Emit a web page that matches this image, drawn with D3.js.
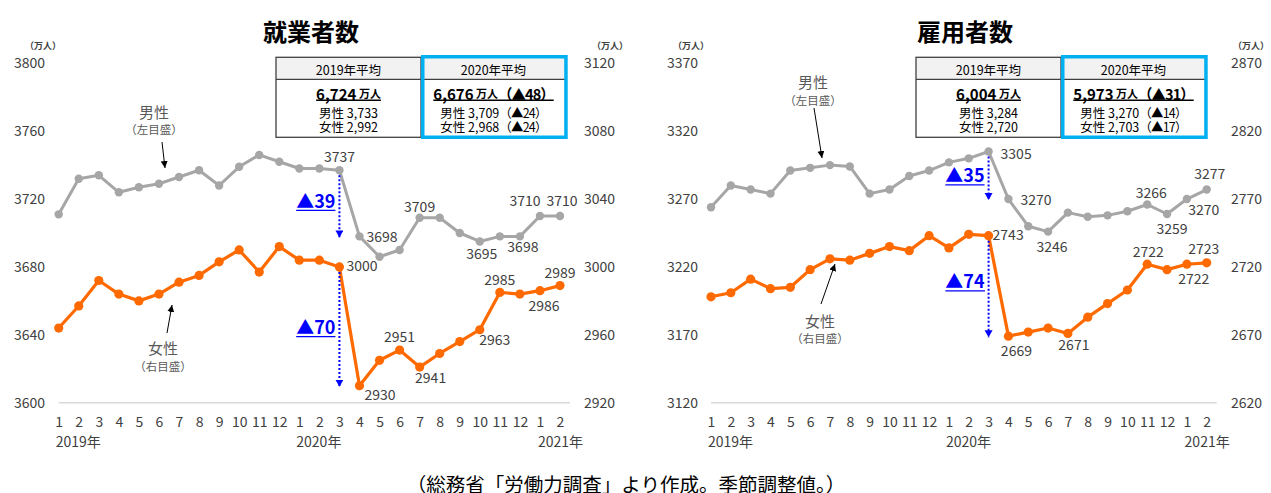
<!DOCTYPE html>
<html><head><meta charset="utf-8">
<script src="https://cdn.jsdelivr.net/npm/d3@7"></script>
<style>
html,body{margin:0;padding:0;background:#fff;}
svg{display:block;font-family:"Noto Sans CJK JP","Noto Sans",sans-serif;}
</style></head>
<body>
<svg id="c" width="1271" height="493"></svg>
<script>
// ---------- data ----------
const months = ["1","2","3","4","5","6","7","8","9","10","11","12","1","2","3","4","5","6","7","8","9","10","11","12","1","2"];
const yearLabels = ["2019年","2020年","2021年"];
const yearIdx = [0,12,25];

// 就業者数 (万人)
const shugyoMen   = [3711,3732,3734,3724,3727,3729,3733,3737,3728,3739,3746,3742,3738,3738,3737,3698,3686,3690,3709,3709,3700,3695,3698,3698,3710,3710];
const shugyoWomen = [2964,2977,2992,2984,2980,2984,2991,2995,3003,3010,2997,3012,3004,3004,3000,2930,2945,2951,2941,2949,2956,2963,2985,2984,2986,2989];
const shugyoLeftTicks  = [3600,3640,3680,3720,3760,3800];
const shugyoRightTicks = [2920,2960,3000,3040,3080,3120];

// 雇用者数 (万人)
const koyoMen   = [3264,3280,3277,3274,3291,3293,3295,3294,3274,3277,3287,3291,3297,3300,3305,3270,3250,3246,3260,3257,3258,3261,3266,3259,3270,3277];
const koyoWomen = [2698,2701,2711,2704,2705,2718,2726,2725,2730,2735,2732,2743,2734,2744,2743,2669,2672,2675,2671,2683,2693,2703,2722,2718,2722,2723];
const koyoLeftTicks  = [3120,3170,3220,3270,3320,3370];
const koyoRightTicks = [2620,2670,2720,2770,2820,2870];

// summary tables
const tableHeads = ["2019年平均","2020年平均"];
const shugyoTotals = ["6,724","6,676"];
const shugyoTotalDelta = ["","（▲48）"];
const shugyoMenAvg = ["3,733","3,709"];
const shugyoMenDelta = ["","（▲24）"];
const shugyoWomenAvg = ["2,992","2,968"];
const shugyoWomenDelta = ["","（▲24）"];
const koyoTotals = ["6,004","5,973"];
const koyoTotalDelta = ["","（▲31）"];
const koyoMenAvg = ["3,284","3,270"];
const koyoMenDelta = ["","（▲14）"];
const koyoWomenAvg = ["2,720","2,703"];
const koyoWomenDelta = ["","（▲17）"];

// ---------- drawing ----------
const svg = d3.select("#c");
const GRAY = "#a6a6a6", ORANGE = "#ff6a00", BLUE = "#0000ff", TXT = "#404040";
const defs = svg.append("defs");
defs.append("marker").attr("id","ah").attr("markerUnits","userSpaceOnUse")
  .attr("markerWidth",8).attr("markerHeight",8).attr("refX",7).attr("refY",3.5).attr("orient","auto")
  .append("path").attr("d","M0,0 L7,3.5 L0,7 z").attr("fill","#000");
defs.append("marker").attr("id","bh").attr("markerUnits","userSpaceOnUse")
  .attr("markerWidth",9).attr("markerHeight",9).attr("refX",7).attr("refY",4).attr("orient","auto")
  .append("path").attr("d","M0,0 L7,4 L0,8 z").attr("fill",BLUE);

const Y0 = 402.7, Y1 = 63.3;

function drawChart(cfg){
  const g = svg.append("g");
  const x = d3.scalePoint().domain(d3.range(months.length)).range(cfg.xRange);
  const yL = d3.scaleLinear().domain(cfg.leftDomain).range([Y0,Y1]);
  const yR = d3.scaleLinear().domain(cfg.rightDomain).range([Y0,Y1]);

  // title
  g.append("text").attr("x",cfg.titleX).attr("y",30).attr("text-anchor","middle")
    .attr("dominant-baseline","central").attr("font-size",24).attr("font-weight","bold")
    .attr("fill","#000").text(cfg.title);

  // unit labels
  [cfg.unitL, cfg.unitR].forEach(ux=>{
    g.append("text").attr("x",ux).attr("y",45).attr("text-anchor","middle")
     .attr("dominant-baseline","central").attr("font-size",9).attr("font-weight","bold")
     .attr("fill",TXT).text("（万人）");
  });

  // baseline
  g.append("line").attr("x1",x(0)).attr("x2",x(months.length-1)+10)
    .attr("y1",Y0).attr("y2",Y0).attr("stroke","#d9d9d9").attr("stroke-width",1.5);

  // axes
  const axL = g.append("g").attr("transform",`translate(${cfg.axisLX},0)`)
    .call(d3.axisLeft(yL).tickValues(cfg.leftTicks).tickSize(0).tickPadding(0).tickFormat(d3.format("d")));
  const axR = g.append("g").attr("transform",`translate(${cfg.axisRX},0)`)
    .call(d3.axisRight(yR).tickValues(cfg.rightTicks).tickSize(0).tickPadding(0).tickFormat(d3.format("d")));
  const axB = g.append("g").attr("transform",`translate(0,${Y0})`)
    .call(d3.axisBottom(x).tickSize(0).tickPadding(14).tickFormat(i=>months[i]));
  [axL,axR,axB].forEach(a=>{
    a.select(".domain").remove();
    a.selectAll("text").attr("font-size",14).attr("fill",TXT)
     .attr("font-family",'"Noto Sans CJK JP","Noto Sans",sans-serif');
  });

  // year labels
  yearLabels.forEach((t,k)=>{
    const last = k===yearLabels.length-1;
    g.append("text").attr("x", last ? x(yearIdx[k])+23 : x(yearIdx[k])-3).attr("y",447)
      .attr("text-anchor", last ? "end" : "start").attr("font-size",14).attr("fill",TXT).text(t);
  });

  // lines
  const lineL = d3.line().x((d,i)=>x(i)).y(d=>yL(d));
  const lineR = d3.line().x((d,i)=>x(i)).y(d=>yR(d));
  g.append("path").attr("d",lineL(cfg.men)).attr("fill","none").attr("stroke",GRAY).attr("stroke-width",3).attr("stroke-linejoin","round");
  g.selectAll(null).data(cfg.men).enter().append("circle")
    .attr("cx",(d,i)=>x(i)).attr("cy",d=>yL(d)).attr("r",4.2).attr("fill",GRAY);
  g.append("path").attr("d",lineR(cfg.women)).attr("fill","none").attr("stroke",ORANGE).attr("stroke-width",3.2).attr("stroke-linejoin","round");
  g.selectAll(null).data(cfg.women).enter().append("circle")
    .attr("cx",(d,i)=>x(i)).attr("cy",d=>yR(d)).attr("r",4.6).attr("fill",ORANGE);

  // data labels
  function labels(list, vals, ys){
    list.forEach(([i,anchor,dx,dy])=>{
      g.append("text").attr("x",x(i)+dx).attr("y",ys(vals[i])+dy)
       .attr("text-anchor",anchor).attr("dominant-baseline","central")
       .attr("font-size",14).attr("fill",TXT).text(vals[i]);
    });
  }
  labels(cfg.menLabels, cfg.men, yL);
  labels(cfg.womenLabels, cfg.women, yR);

  // drop arrows (blue dotted) + delta labels
  function drop(vals, ys, i, dyText){
    const a = vals[i], b = vals[i+1];
    g.append("line").attr("x1",x(i)).attr("x2",x(i)).attr("y1",ys(a)+5).attr("y2",ys(b)+1)
      .attr("stroke",BLUE).attr("stroke-width",2).attr("stroke-dasharray","2,2")
      .attr("marker-end","url(#bh)");
    const t = g.append("text").attr("x",x(i)-4).attr("y",(ys(a)+ys(b))/2+dyText)
      .attr("text-anchor","end").attr("font-size",18).attr("font-weight","bold")
      .attr("fill",BLUE).text("▲"+(a-b));
    const bb = t.node().getBBox();
    g.append("line").attr("x1",bb.x).attr("x2",bb.x+bb.width)
      .attr("y1",(ys(a)+ys(b))/2+dyText+2.5).attr("y2",(ys(a)+ys(b))/2+dyText+2.5)
      .attr("stroke",BLUE).attr("stroke-width",1.3);
  }
  drop(cfg.men, yL, 14, cfg.dropDy[0]);
  drop(cfg.women, yR, 14, cfg.dropDy[1]);

  // series annotations
  cfg.notes.forEach(n=>{
    g.append("text").attr("x",n.x).attr("y",n.y).attr("text-anchor","middle")
      .attr("dominant-baseline","central").attr("font-size",15).attr("fill","#595959").text(n.t1);
    g.append("text").attr("x",n.x).attr("y",n.y+18).attr("text-anchor","middle")
      .attr("dominant-baseline","central").attr("font-size",11.5).attr("fill","#595959").text(n.t2);
    g.append("line").attr("x1",n.a[0]).attr("y1",n.a[1]).attr("x2",n.a[2]).attr("y2",n.a[3])
      .attr("stroke","#000").attr("stroke-width",1).attr("marker-end","url(#ah)");
  });

  // table
  const tx = cfg.tableX, ty = 57.3, cw = 145, hh = 22, th = 80;
  g.append("rect").attr("x",tx).attr("y",ty).attr("width",cw*2).attr("height",hh).attr("fill","#f2f2f2");
  g.append("rect").attr("x",tx).attr("y",ty).attr("width",cw).attr("height",th)
    .attr("fill","none").attr("stroke","#404040").attr("stroke-width",1.3);
  g.append("line").attr("x1",tx).attr("x2",tx+cw*2).attr("y1",ty+hh).attr("y2",ty+hh)
    .attr("stroke","#404040").attr("stroke-width",1.3);
  g.append("rect").attr("x",tx+cw+1.75).attr("y",ty-0.55).attr("width",cw-1.8).attr("height",th+0.5)
    .attr("fill","none").attr("stroke","#00b0f0").attr("stroke-width",3.5);
  for(let c=0;c<2;c++){
    const cx = tx + cw*c + cw/2;
    g.append("text").attr("x",cx).attr("y",ty+12).attr("text-anchor","middle")
      .attr("dominant-baseline","central").attr("font-size",12.5).attr("fill","#000").text(tableHeads[c]);
    const tt = g.append("text").attr("x",cx).attr("y",ty+36).attr("text-anchor","middle")
      .attr("dominant-baseline","central").attr("font-weight","bold").attr("fill","#000");
    tt.append("tspan").attr("font-size",15).text(cfg.totals[c]);
    tt.append("tspan").attr("font-size",11).text(" 万人");
    if(cfg.totalDelta[c]) tt.append("tspan").attr("font-size",14.5).attr("letter-spacing",-1).text(cfg.totalDelta[c]);
    const bb = tt.node().getBBox();
    g.append("line").attr("x1",bb.x).attr("x2",bb.x+bb.width).attr("y1",ty+43).attr("y2",ty+43)
      .attr("stroke","#000").attr("stroke-width",1.5);
    [["男性",cfg.menAvg[c],cfg.menDelta[c],ty+54.5],["女性",cfg.womenAvg[c],cfg.womenDelta[c],ty+68.5]].forEach(([s,v,dl,yy])=>{
      const t2 = g.append("text").attr("x",cx).attr("y",yy).attr("text-anchor","middle")
        .attr("dominant-baseline","central").attr("font-size",12.5).attr("fill","#000");
      t2.append("tspan").text(s+" "+v);
      if(dl) t2.append("tspan").attr("letter-spacing",-0.8).text(dl);
    });
  }
}

drawChart({
  title:"就業者数", titleX:311, unitL:43, unitR:610,
  xRange:[58.7,560], leftDomain:[3600,3800], rightDomain:[2920,3120],
  leftTicks:shugyoLeftTicks, rightTicks:shugyoRightTicks, axisLX:45, axisRX:584,
  men:shugyoMen, women:shugyoWomen,
  menLabels:[[14,"middle",0,-14],[15,"start",7,0],[18,"middle",0,-12],[21,"middle",2,12],[23,"middle",3,10],[24,"middle",-15,-16],[25,"middle",2,-16]],
  womenLabels:[[14,"start",7,-2],[15,"start",5,8],[17,"middle",0,-14],[18,"middle",11,10],[21,"middle",15,9],[22,"middle",0,-13],[24,"middle",4,14],[25,"middle",0,-14]],
  dropDy:[4.6,7.7],
  notes:[{x:154,y:111,t1:"男性",t2:"（左目盛）",a:[162,142,165,168]},
         {x:163,y:347.7,t1:"女性",t2:"（右目盛）",a:[167,333,172,305]}],
  tableX:276, totals:shugyoTotals, totalDelta:shugyoTotalDelta,
  menAvg:shugyoMenAvg, menDelta:shugyoMenDelta, womenAvg:shugyoWomenAvg, womenDelta:shugyoWomenDelta
});

drawChart({
  title:"雇用者数", titleX:965, unitL:691, unitR:1251,
  xRange:[711,1206.7], leftDomain:[3120,3370], rightDomain:[2620,2870],
  leftTicks:koyoLeftTicks, rightTicks:koyoRightTicks, axisLX:698, axisRX:1231,
  men:koyoMen, women:koyoWomen,
  menLabels:[[14,"start",12,1],[15,"start",12,0],[17,"middle",4,14],[22,"middle",4,-12],[23,"middle",5,14],[24,"middle",17,10],[25,"middle",3,-17]],
  womenLabels:[[14,"start",4,-2],[15,"middle",8,14],[18,"middle",6,11],[22,"middle",1,-13],[24,"middle",7,14],[25,"middle",-3,-15]],
  dropDy:[7,2.5],
  notes:[{x:813,y:81.7,t1:"男性",t2:"（左目盛）",a:[814,108,822,158]},
         {x:820,y:320,t1:"女性",t2:"（右目盛）",a:[821,304,835,264]}],
  tableX:916, totals:koyoTotals, totalDelta:koyoTotalDelta,
  menAvg:koyoMenAvg, menDelta:koyoMenDelta, womenAvg:koyoWomenAvg, womenDelta:koyoWomenDelta
});

svg.append("text").attr("x",626).attr("y",483).attr("text-anchor","middle")
  .attr("dominant-baseline","central").attr("font-size",19.5).attr("fill","#000")
  .text("（総務省「労働力調査」より作成。季節調整値。）");
</script>
</body></html>
